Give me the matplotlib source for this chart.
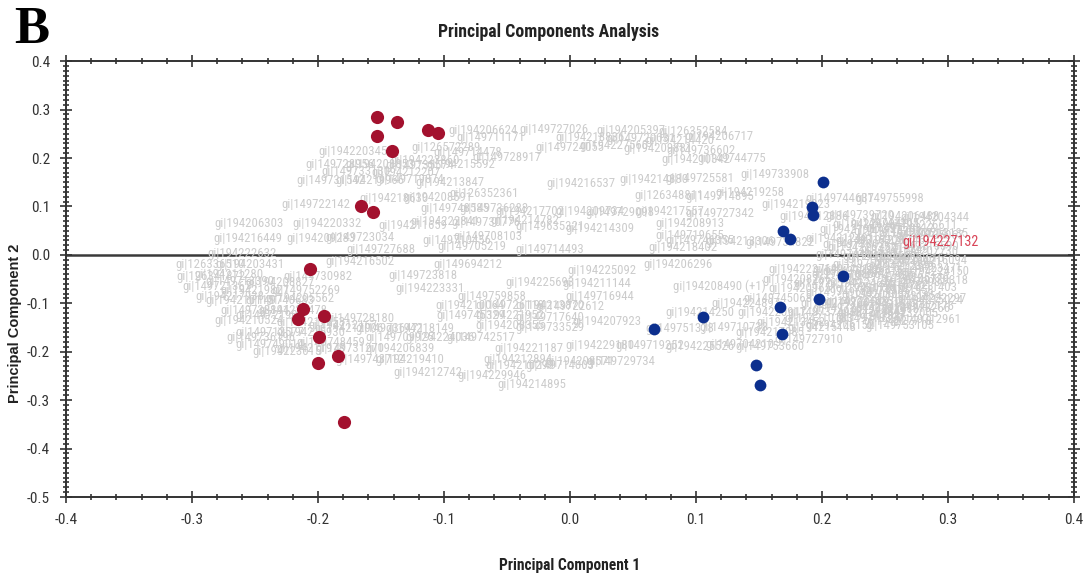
import matplotlib
matplotlib.use("Agg")
import matplotlib.pyplot as plt
from matplotlib import font_manager as fm
from matplotlib.ticker import MultipleLocator, FormatStrFormatter

plt.rcParams['axes.unicode_minus'] = False


def narrow_font():
    # look for any condensed / narrow sans face that is installed
    fonts = fm.fontManager.ttflist
    names = {f.name for f in fonts}
    for cand in ['Liberation Sans Narrow', 'Arial Narrow', 'Roboto Condensed',
                 'Open Sans Condensed', 'Noto Sans Condensed', 'DejaVu Sans Condensed']:
        if cand in names:
            return cand, 'normal', True
    for f in fonts:
        if 'condensed' in str(f.stretch) or 'Narrow' in f.name or 'ondensed' in f.name:
            return f.name, f.stretch, True
    return 'Liberation Sans', 'normal', False


NARROW, STRETCH, FOUND = narrow_font()

# scores of the two sample groups on PC1 / PC2
red_pc1 = [-0.153, -0.153, -0.137, -0.141, -0.113, -0.105, -0.166, -0.156,
           -0.206, -0.212, -0.216, -0.195, -0.199, -0.184, -0.200, -0.179]
red_pc2 = [0.285, 0.246, 0.275, 0.215, 0.258, 0.252, 0.101, 0.089,
           -0.029, -0.112, -0.132, -0.126, -0.169, -0.209, -0.223, -0.345]

blue_pc1 = [0.201, 0.192, 0.193, 0.169, 0.175, 0.217, 0.198, 0.167,
            0.168, 0.106, 0.067, 0.148, 0.151]
blue_pc2 = [0.151, 0.099, 0.083, 0.050, 0.033, -0.043, -0.091, -0.107,
            -0.163, -0.128, -0.153, -0.227, -0.269]

# loadings (protein ids) shown as text
gene_pc1 = [
    -0.069, -0.013, 0.048, 0.098, 0.118, -0.063, 0.016, 0.056, 0.087, -0.098,
    -0.081, -0.050, 0.000, 0.035, 0.070, 0.104, 0.128, 0.100, -0.172, -0.115,
    -0.183, -0.151, -0.119, -0.087, -0.170, -0.130, -0.190, -0.159, -0.127, -0.095,
    -0.068, -0.202, -0.140, -0.105, -0.193, -0.255, -0.256, -0.198, -0.167, -0.125,
    -0.090, -0.091, -0.060, -0.032, -0.099, -0.067, -0.036, 0.016, 0.040, -0.016,
    0.024, -0.065, -0.016, 0.009, 0.067, 0.103, 0.163, 0.079, 0.119, 0.143,
    0.079, 0.119, 0.095, 0.095, 0.090, 0.214, 0.254, 0.179, 0.194, 0.230,
    0.266, 0.290, 0.250, 0.280, 0.103, 0.135, 0.167, 0.214, 0.238, -0.260,
    -0.150, -0.078, -0.286, -0.254, -0.271, -0.262, -0.230, -0.250, -0.210, -0.262,
    -0.230, -0.214, -0.250, -0.220, -0.238, -0.206, -0.238, -0.206, -0.238, -0.167,
    -0.117, -0.081, -0.111, -0.062, -0.024, -0.079, -0.048, -0.016, -0.079, -0.048,
    -0.016, -0.048, -0.016, -0.167, -0.175, -0.143, -0.119, -0.135, -0.103, -0.071,
    -0.206, -0.175, -0.135, -0.159, -0.127, -0.113, -0.033, -0.041, -0.040, -0.008,
    -0.062, -0.030, 0.025, 0.021, 0.024, 0.000, 0.029, 0.086, 0.119, 0.103,
    0.087, 0.024, 0.063, 0.103, 0.135, 0.008, 0.040, 0.159, 0.159, 0.160,
    0.200, 0.200, 0.198, 0.238, 0.185, 0.220, 0.185, 0.220, 0.225, 0.252,
    0.272, 0.286, 0.232, 0.258, 0.281, 0.222, 0.248, 0.270, 0.288, 0.236,
    0.262, 0.284, 0.219, 0.246, 0.274, 0.289, 0.231, 0.257, 0.280, 0.214,
    0.243, 0.268, 0.287, 0.226, 0.255, 0.278, 0.240, 0.265, 0.260, 0.283,
    0.236, 0.262, 0.289, 0.228, 0.255, 0.282, 0.244, 0.268, 0.290, 0.228,
    0.252, 0.277, 0.238, 0.262, 0.285, 0.230, 0.250, 0.275, 0.240, 0.262,
    0.214, 0.205, 0.210, 0.190, 0.175, 0.165, 0.140, 0.130, 0.180, -0.285,
    -0.270, -0.280, -0.255, -0.245, -0.225, -0.190, -0.180, -0.200,
]
gene_pc2 = [
    0.256, 0.258, 0.256, 0.254, 0.244, 0.243, 0.242, 0.240, 0.236, 0.222,
    0.212, 0.202, 0.222, 0.225, 0.220, 0.215, 0.198, 0.196, 0.213, 0.195,
    0.186, 0.186, 0.184, 0.186, 0.172, 0.170, 0.153, 0.153, 0.155, 0.150,
    0.126, 0.105, 0.116, 0.118, 0.064, 0.064, 0.033, 0.033, 0.036, 0.060,
    0.030, 0.095, 0.095, 0.090, 0.068, 0.066, 0.070, 0.090, 0.088, 0.058,
    0.055, 0.037, 0.012, 0.147, 0.155, 0.157, 0.167, 0.122, 0.120, 0.128,
    0.089, 0.086, 0.065, 0.040, 0.015, 0.116, 0.116, 0.105, 0.080, 0.082,
    0.080, 0.078, 0.065, 0.060, 0.030, 0.028, 0.025, 0.033, 0.030, 0.002,
    0.012, 0.018, -0.019, -0.019, -0.040, -0.055, -0.058, -0.074, -0.074, -0.095,
    -0.095, -0.090, -0.115, -0.115, -0.125, -0.140, -0.160, -0.160, -0.185, -0.014,
    -0.043, -0.019, -0.070, -0.085, -0.056, -0.105, -0.105, -0.105, -0.125, -0.125,
    -0.130, -0.145, -0.150, -0.132, -0.153, -0.153, -0.153, -0.170, -0.170, -0.170,
    -0.194, -0.194, -0.194, -0.215, -0.215, -0.242, -0.194, -0.215, -0.229, -0.229,
    -0.250, -0.267, -0.033, -0.060, -0.085, -0.107, -0.138, -0.019, -0.064, -0.118,
    -0.153, -0.188, -0.188, -0.190, -0.185, -0.221, -0.221, -0.160, -0.190, -0.120,
    -0.120, -0.150, -0.132, -0.132, -0.030, -0.030, -0.070, -0.110, 0.052, 0.048,
    0.044, 0.040, 0.015, 0.012, 0.008, 0.000, -0.004, -0.008, -0.012, -0.020,
    -0.024, -0.028, -0.040, -0.044, -0.048, -0.052, -0.060, -0.064, -0.068, -0.078,
    -0.082, -0.086, -0.090, -0.098, -0.102, -0.106, -0.118, -0.122, -0.138, -0.134,
    0.062, 0.055, 0.045, 0.022, 0.030, 0.018, -0.003, -0.016, -0.035, -0.034,
    -0.038, -0.056, -0.070, -0.074, -0.094, -0.096, -0.112, -0.110, -0.128, -0.146,
    -0.146, -0.060, -0.100, -0.175, -0.140, -0.090, -0.100, -0.150, -0.050, -0.045,
    -0.085, -0.065, -0.135, -0.170, -0.200, -0.180, -0.145, -0.045,
]
gene_ids = [
    "gi|194206624", "gi|149727026", "gi|194205397", "gi|126352584", "gi|194206717",
    "gi|149711171", "gi|194218836", "gi|149720031", "gi|194214420", "gi|126572289",
    "gi|149714478", "gi|149728917", "gi|149724055", "gi|194227560", "gi|194209881",
    "gi|149736602", "gi|149744775", "gi|194210342", "gi|194220345", "gi|194223860",
    "gi|149728956", "gi|194208853", "gi|149735574", "gi|194215592", "gi|149733130",
    "gi|194212207", "gi|149731542", "gi|194219966", "gi|149719874", "gi|194213847",
    "gi|126352361", "gi|149722142", "gi|194218630", "gi|194208591", "gi|194220332",
    "gi|194206303", "gi|194216449", "gi|194209283", "gi|149723034", "gi|194211659",
    "gi|149710456", "gi|149748585", "gi|149736283", "gi|194217702", "gi|194222841",
    "gi|149730776", "gi|194214782", "gi|194209734", "gi|149729098", "gi|149635321",
    "gi|194214309", "gi|149708103", "gi|149714493", "gi|194216537", "gi|194214880",
    "gi|149725581", "gi|149733908", "gi|126348811", "gi|149714895", "gi|194219258",
    "gi|194217557", "gi|149727342", "gi|194208913", "gi|149719655", "gi|194218402",
    "gi|149744637", "gi|149755998", "gi|194219023", "gi|194212386", "gi|149739720",
    "gi|194206488", "gi|194204344", "gi|149741205", "gi|194226611", "gi|149746355",
    "gi|194213306", "gi|149734822", "gi|194212491", "gi|149715208", "gi|194222632",
    "gi|149727688", "gi|149705219", "gi|126336510", "gi|194203431", "gi|194211280",
    "gi|149713390", "gi|194208827", "gi|194219827", "gi|149752269", "gi|194210115",
    "gi|149740683", "gi|194205562", "gi|149738841", "gi|194224478", "gi|149721906",
    "gi|194217253", "gi|149712577", "gi|194215930", "gi|149749014", "gi|194216502",
    "gi|149723818", "gi|149694212", "gi|194223331", "gi|149759858", "gi|194225693",
    "gi|194210064", "gi|149726118", "gi|194213870", "gi|149745329", "gi|194221952",
    "gi|149717640", "gi|194208355", "gi|149733529", "gi|149728180", "gi|194212006",
    "gi|149736471", "gi|194218149", "gi|149709925", "gi|194224036", "gi|149742517",
    "gi|194211978", "gi|149731270", "gi|194206839", "gi|149743712", "gi|194219410",
    "gi|194212742", "gi|194221187", "gi|194212894", "gi|194210299", "gi|149714003",
    "gi|194229946", "gi|194214895", "gi|194225092", "gi|194211144", "gi|149716944",
    "gi|149722612", "gi|194207923", "gi|194206296", "gi|194208490 (+1)", "gi|194214250",
    "gi|149751378", "gi|194229180", "gi|149719252", "gi|194225526", "gi|149704210",
    "gi|194208571", "gi|149729734", "gi|194217085", "gi|149753660", "gi|194220917",
    "gi|149737493", "gi|194215148", "gi|194210183", "gi|149718397", "gi|194223769",
    "gi|149740126", "gi|194209651", "gi|149726440", "gi|194219873", "gi|149748292",
    "gi|194213614", "gi|149735067", "gi|194226352", "gi|149711849", "gi|194207730",
    "gi|149744193", "gi|194221568", "gi|149730615", "gi|194216094", "gi|149752837",
    "gi|194212349", "gi|149723471", "gi|194218806", "gi|149747950", "gi|194205179",
    "gi|149739318", "gi|194224625", "gi|149716782", "gi|194211403", "gi|149749661",
    "gi|194208038", "gi|149731854", "gi|194222297", "gi|149720549", "gi|194215783",
    "gi|149742176", "gi|194219542", "gi|149737005", "gi|194227718", "gi|149712961",
    "gi|194226904", "gi|149750312", "gi|194213185", "gi|149738027", "gi|194221746",
    "gi|149715590", "gi|194209462", "gi|149746871", "gi|194224150", "gi|149733394",
    "gi|194218567", "gi|149729811", "gi|194207619", "gi|149741958", "gi|194215024",
    "gi|149724683", "gi|194222418", "gi|149718266", "gi|194211837", "gi|149753105",
    "gi|194206152", "gi|149735749", "gi|194219306", "gi|149727910", "gi|194213452",
    "gi|149745068", "gi|194224897", "gi|149710733", "gi|194208266", "gi|126341872",
    "gi|194217938", "gi|149721367", "gi|194210524", "gi|149736196", "gi|194223015",
    "gi|149748459", "gi|194212167", "gi|149730982",
]
highlight_id = "gi|194227132"
highlight_pc1, highlight_pc2 = 0.294, 0.027

label_size = 9.2 if FOUND else 7.5
tick_size = 11 if FOUND else 9.5

fig = plt.figure(figsize=(10.88, 5.77), dpi=100)
ax = fig.add_axes([0.0607, 0.1386, 0.9263, 0.7554])

ax.axhline(0, color='#3a3a3a', lw=1.8, zorder=1)

for gx, gy, gid in zip(gene_pc1, gene_pc2, gene_ids):
    ax.text(gx, gy, gid, color='#cccccc', fontsize=label_size, family=NARROW,
            stretch=STRETCH, ha='center', va='center', zorder=2, clip_on=True)
ax.text(highlight_pc1, highlight_pc2, highlight_id, color='#d94457',
        fontsize=label_size + 1, family=NARROW, stretch=STRETCH,
        ha='center', va='center', zorder=3)

ax.scatter(red_pc1, red_pc2, s=90, color='#a3112e', zorder=4, linewidths=0)
ax.scatter(blue_pc1, blue_pc2, s=72, color='#0c2f8e', zorder=4, linewidths=0)

ax.set_xlim(-0.4, 0.4)
ax.set_ylim(-0.5, 0.4)
ax.xaxis.set_major_locator(MultipleLocator(0.1))
ax.xaxis.set_minor_locator(MultipleLocator(0.02))
ax.yaxis.set_major_locator(MultipleLocator(0.1))
ax.yaxis.set_minor_locator(MultipleLocator(0.01))
ax.xaxis.set_major_formatter(FormatStrFormatter('%.1f'))
ax.yaxis.set_major_formatter(FormatStrFormatter('%.1f'))
ax.tick_params(which='both', direction='inout', top=True, right=True,
               color='#333333', width=1.2)
ax.tick_params(which='major', length=9, pad=7, labelsize=tick_size)
ax.tick_params(which='minor', length=5)
for lab in ax.get_xticklabels() + ax.get_yticklabels():
    lab.set_family(NARROW)
    lab.set_stretch(STRETCH)
    lab.set_color('#333333')
for sp in ax.spines.values():
    sp.set_color('#333333')
    sp.set_linewidth(1.4)

fig.text(0.504, 0.945, 'Principal Components Analysis', ha='center', va='center',
         fontsize=12.8 if FOUND else 10.5, fontweight='bold', family=NARROW,
         stretch=STRETCH, color='#222222')
fig.text(0.524, 0.02, 'Principal Component 1', ha='center', va='center',
         fontsize=11.2 if FOUND else 10, fontweight='bold', family=NARROW,
         stretch=STRETCH, color='#222222')
fig.text(0.014, 0.44, 'Principal Component 2', ha='center', va='center',
         rotation=90, fontsize=10.5, fontweight='bold', family='Liberation Sans',
         color='#222222')
fig.text(0.013, 0.948, 'B', ha='left', va='center', fontsize=38,
         fontweight='bold', family='Liberation Serif', color='black')

fig.savefig('out.png', dpi=100)
